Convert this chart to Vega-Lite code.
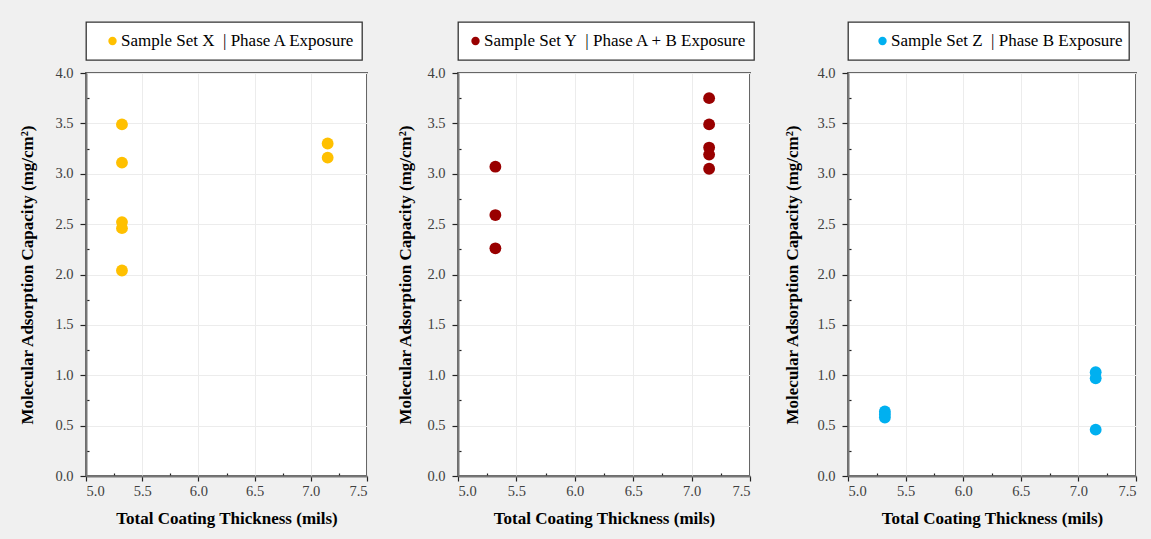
{
  "$schema": "https://vega.github.io/schema/vega-lite/v6.json",
  "background": "#f0f0f0",
  "padding": {"left": 17, "top": 20, "right": 13, "bottom": 11},
  "data": {
    "values": [
      {"set": "X", "label": "Sample Set X\u00a0 | Phase A Exposure", "thickness": 5.32, "capacity": 3.49},
      {"set": "X", "label": "Sample Set X\u00a0 | Phase A Exposure", "thickness": 5.32, "capacity": 3.11},
      {"set": "X", "label": "Sample Set X\u00a0 | Phase A Exposure", "thickness": 5.32, "capacity": 2.52},
      {"set": "X", "label": "Sample Set X\u00a0 | Phase A Exposure", "thickness": 5.32, "capacity": 2.46},
      {"set": "X", "label": "Sample Set X\u00a0 | Phase A Exposure", "thickness": 5.32, "capacity": 2.04},
      {"set": "X", "label": "Sample Set X\u00a0 | Phase A Exposure", "thickness": 7.15, "capacity": 3.30},
      {"set": "X", "label": "Sample Set X\u00a0 | Phase A Exposure", "thickness": 7.15, "capacity": 3.16},
      {"set": "Y", "label": "Sample Set Y\u00a0 | Phase A + B Exposure", "thickness": 5.32, "capacity": 3.07},
      {"set": "Y", "label": "Sample Set Y\u00a0 | Phase A + B Exposure", "thickness": 5.32, "capacity": 2.59},
      {"set": "Y", "label": "Sample Set Y\u00a0 | Phase A + B Exposure", "thickness": 5.32, "capacity": 2.26},
      {"set": "Y", "label": "Sample Set Y\u00a0 | Phase A + B Exposure", "thickness": 7.15, "capacity": 3.75},
      {"set": "Y", "label": "Sample Set Y\u00a0 | Phase A + B Exposure", "thickness": 7.15, "capacity": 3.49},
      {"set": "Y", "label": "Sample Set Y\u00a0 | Phase A + B Exposure", "thickness": 7.15, "capacity": 3.26},
      {"set": "Y", "label": "Sample Set Y\u00a0 | Phase A + B Exposure", "thickness": 7.15, "capacity": 3.19},
      {"set": "Y", "label": "Sample Set Y\u00a0 | Phase A + B Exposure", "thickness": 7.15, "capacity": 3.05},
      {"set": "Z", "label": "Sample Set Z\u00a0 | Phase B Exposure", "thickness": 5.32, "capacity": 0.64},
      {"set": "Z", "label": "Sample Set Z\u00a0 | Phase B Exposure", "thickness": 5.32, "capacity": 0.61},
      {"set": "Z", "label": "Sample Set Z\u00a0 | Phase B Exposure", "thickness": 5.32, "capacity": 0.58},
      {"set": "Z", "label": "Sample Set Z\u00a0 | Phase B Exposure", "thickness": 7.15, "capacity": 1.03},
      {"set": "Z", "label": "Sample Set Z\u00a0 | Phase B Exposure", "thickness": 7.15, "capacity": 0.97},
      {"set": "Z", "label": "Sample Set Z\u00a0 | Phase B Exposure", "thickness": 7.15, "capacity": 0.46}
    ]
  },
  "spacing": 26,
  "resolve": {"scale": {"color": "independent", "x": "independent", "y": "independent"}, "legend": {"color": "independent"}},
  "hconcat": [
    {
      "width": 281, "height": 403,
      "transform": [{"filter": "datum.set === 'X'"}],
      "mark": {"type": "point", "filled": true, "size": 140, "opacity": 1},
      "encoding": {
        "x": {"field": "thickness", "type": "quantitative", "scale": {"domain": [5, 7.5], "nice": false, "zero": false},
          "axis": {"title": "Total Coating Thickness (mils)", "values": [5, 5.25, 5.5, 5.75, 6, 6.25, 6.5, 6.75, 7, 7.25, 7.5],
            "labelExpr": "datum.value % 0.5 === 0 ? format(datum.value, '.1f') : ''", "labelOverlap": false,
            "tickSize": {"condition": {"test": "datum.value % 0.5 === 0", "value": 5}, "value": -3},
            "gridOpacity": {"condition": {"test": "datum.value % 0.5 === 0", "value": 1}, "value": 0},
            "labelPadding": 3, "titlePadding": 13}},
        "y": {"field": "capacity", "type": "quantitative", "scale": {"domain": [0, 4], "nice": false, "zero": false},
          "axis": {"title": "Molecular Adsorption Capacity (mg/cm²)", "values": [0, 0.25, 0.5, 0.75, 1, 1.25, 1.5, 1.75, 2, 2.25, 2.5, 2.75, 3, 3.25, 3.5, 3.75, 4],
            "labelExpr": "datum.value % 0.5 === 0 ? format(datum.value, '.1f') : ''", "labelOverlap": false,
            "tickSize": {"condition": {"test": "datum.value % 0.5 === 0", "value": 6}, "value": -3},
            "gridOpacity": {"condition": {"test": "datum.value % 0.5 === 0", "value": 1}, "value": 0},
            "labelPadding": 7, "titlePadding": 18}},
        "color": {"field": "label", "type": "nominal", "scale": {"range": ["#FFC000"]},
          "legend": {"title": null, "symbolOffset": 12, "labelExpr": "datum.label + '\u00a0\u00a0'"}}
      }
    },
    {
      "width": 292, "height": 403,
      "transform": [{"filter": "datum.set === 'Y'"}],
      "mark": {"type": "point", "filled": true, "size": 140, "opacity": 1},
      "encoding": {
        "x": {"field": "thickness", "type": "quantitative", "scale": {"domain": [5, 7.5], "nice": false, "zero": false},
          "axis": {"title": "Total Coating Thickness (mils)", "values": [5, 5.25, 5.5, 5.75, 6, 6.25, 6.5, 6.75, 7, 7.25, 7.5],
            "labelExpr": "datum.value % 0.5 === 0 ? format(datum.value, '.1f') : ''", "labelOverlap": false,
            "tickSize": {"condition": {"test": "datum.value % 0.5 === 0", "value": 5}, "value": -3},
            "gridOpacity": {"condition": {"test": "datum.value % 0.5 === 0", "value": 1}, "value": 0},
            "labelPadding": 3, "titlePadding": 13}},
        "y": {"field": "capacity", "type": "quantitative", "scale": {"domain": [0, 4], "nice": false, "zero": false},
          "axis": {"title": "Molecular Adsorption Capacity (mg/cm²)", "values": [0, 0.25, 0.5, 0.75, 1, 1.25, 1.5, 1.75, 2, 2.25, 2.5, 2.75, 3, 3.25, 3.5, 3.75, 4],
            "labelExpr": "datum.value % 0.5 === 0 ? format(datum.value, '.1f') : ''", "labelOverlap": false,
            "tickSize": {"condition": {"test": "datum.value % 0.5 === 0", "value": 6}, "value": -3},
            "gridOpacity": {"condition": {"test": "datum.value % 0.5 === 0", "value": 1}, "value": 0},
            "labelPadding": 7, "titlePadding": 12}},
        "color": {"field": "label", "type": "nominal", "scale": {"range": ["#990000"]},
          "legend": {"title": null, "symbolOffset": 3}}
      }
    },
    {
      "width": 288, "height": 403,
      "transform": [{"filter": "datum.set === 'Z'"}],
      "mark": {"type": "point", "filled": true, "size": 140, "opacity": 1},
      "encoding": {
        "x": {"field": "thickness", "type": "quantitative", "scale": {"domain": [5, 7.5], "nice": false, "zero": false},
          "axis": {"title": "Total Coating Thickness (mils)", "values": [5, 5.25, 5.5, 5.75, 6, 6.25, 6.5, 6.75, 7, 7.25, 7.5],
            "labelExpr": "datum.value % 0.5 === 0 ? format(datum.value, '.1f') : ''", "labelOverlap": false,
            "tickSize": {"condition": {"test": "datum.value % 0.5 === 0", "value": 5}, "value": -3},
            "gridOpacity": {"condition": {"test": "datum.value % 0.5 === 0", "value": 1}, "value": 0},
            "labelPadding": 3, "titlePadding": 13}},
        "y": {"field": "capacity", "type": "quantitative", "scale": {"domain": [0, 4], "nice": false, "zero": false},
          "axis": {"title": "Molecular Adsorption Capacity (mg/cm²)", "values": [0, 0.25, 0.5, 0.75, 1, 1.25, 1.5, 1.75, 2, 2.25, 2.5, 2.75, 3, 3.25, 3.5, 3.75, 4],
            "labelExpr": "datum.value % 0.5 === 0 ? format(datum.value, '.1f') : ''", "labelOverlap": false,
            "tickSize": {"condition": {"test": "datum.value % 0.5 === 0", "value": 6}, "value": -3},
            "gridOpacity": {"condition": {"test": "datum.value % 0.5 === 0", "value": 1}, "value": 0},
            "labelPadding": 7, "titlePadding": 15}},
        "color": {"field": "label", "type": "nominal", "scale": {"range": ["#00B0F0"]},
          "legend": {"title": null, "symbolOffset": 20, "labelExpr": "datum.label + '\u00a0\u00a0\u00a0\u00a0'"}}
      }
    }
  ],
  "config": {
    "font": "Liberation Serif",
    "view": {"fill": "white", "stroke": "#666666", "strokeWidth": 2},
    "axis": {
      "domainColor": "#777777", "domainWidth": 2,
      "tickColor": "#222222", "tickWidth": 1.2,
      "labelFont": "Liberation Serif", "labelFontSize": 14.5, "labelColor": "#404040",
      "titleFont": "Liberation Serif", "titleFontSize": 17, "titleFontWeight": "bold", "titleColor": "#000000",
      "gridColor": "#ececec", "gridWidth": 1
    },
    "legend": {
      "orient": "top", "offset": 13, "padding": 6, "clipHeight": 26,
      "strokeColor": "#333333", "fillColor": "#ffffff", "strokeWidth": 1.3,
      "symbolType": "circle", "symbolSize": 70, "labelOffset": 0,
      "labelFont": "Liberation Serif", "labelFontSize": 17, "labelColor": "#000000", "labelLimit": 400
    }
  }
}
